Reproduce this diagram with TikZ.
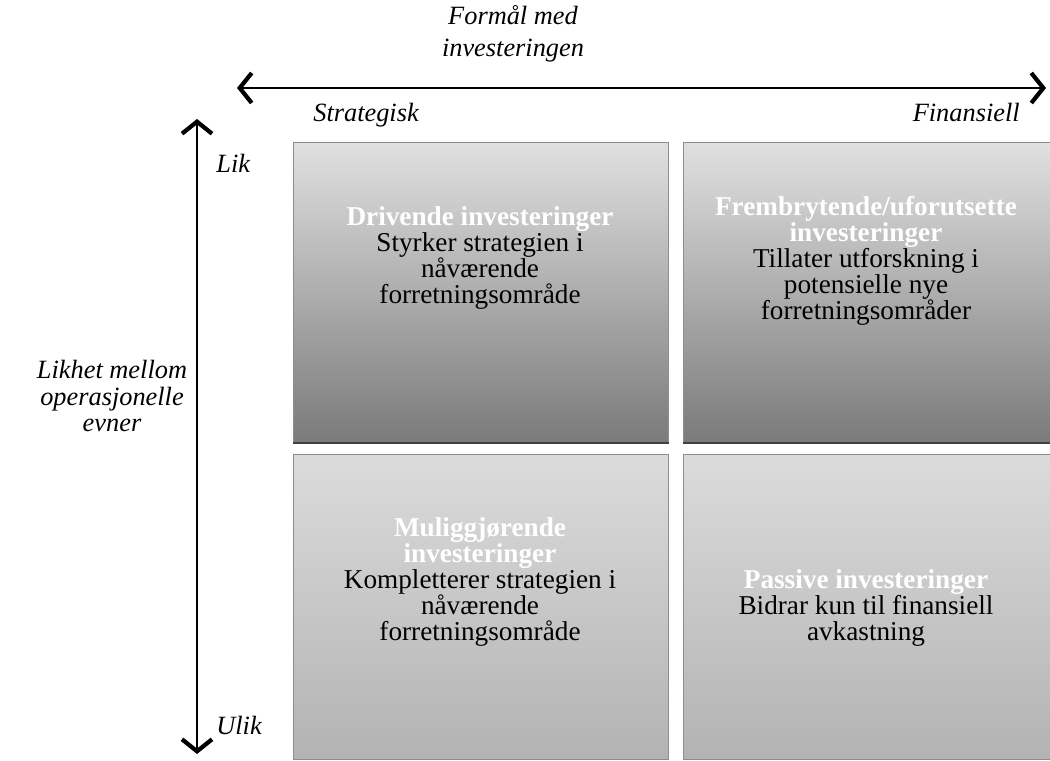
\documentclass[tikz,border=0pt]{standalone}
\usepackage{fontspec}
\setmainfont{Liberation Serif}
\usetikzlibrary{arrows.meta,positioning}

\tikzset{
  felt/.style={anchor=south west,inner sep=0pt,draw=black!45,line width=0.6pt},
  mork/.style={felt,top color=black!12,bottom color=black!52},
  lys/.style={felt,top color=black!14,bottom color=black!30},
  skygge/.style={draw=black!75,line width=1.6pt},
  tekst/.style={align=center,font=\fontsize{15.5}{14.8}\selectfont,inner sep=0pt},
  pil/.tip={Straight Barb[length=2.4mm,width=6mm,line width=2.4pt]},
  akse/.style={line width=1.3pt,{pil}-{pil}},
  etikett/.style={font=\fontsize{15}{18.2}\selectfont\itshape,align=center,inner sep=0pt}
}

\begin{document}
\begin{tikzpicture}[x=0.02cm,y=0.02cm]
  \useasboundingbox (0,0) rectangle (1050,760);
  % the four fields
  \node[mork,minimum width=7.5cm,minimum height=6cm] (drive) at (293,317) {};
  \node[mork,minimum width=7.34cm,minimum height=6cm] (frem) at (683,317) {};
  \node[lys,minimum width=7.5cm,minimum height=6.1cm] (mulig) at (293,0) {};
  \node[lys,minimum width=7.34cm,minimum height=6.1cm] (passiv) at (683,0) {};
  \draw[skygge] (drive.south west)--(drive.south east);
  \draw[skygge] (frem.south west)--(frem.south east);
  \node[tekst] (tDrive) at (480,502) {\textcolor{white}{\bfseries Drivende investeringer}\\
    Styrker strategien i\\ nåværende\\ forretningsområde};
  \node[tekst] (tFrem) at (866,499) {\textcolor{white}{\bfseries Frembrytende/uforutsette}\\
    \textcolor{white}{\bfseries investeringer}\\ Tillater utforskning i\\ potensielle nye\\ forretningsområder};
  \node[tekst] (tMulig) at (480,178) {\textcolor{white}{\bfseries Muliggjørende}\\
    \textcolor{white}{\bfseries investeringer}\\ Kompletterer strategien i\\ nåværende\\ forretningsområde};
  \node[tekst] (tPassiv) at (866,152) {\textcolor{white}{\bfseries Passive investeringer}\\
    Bidrar kun til finansiell\\ avkastning};
  % axes
  \coordinate (V) at (237,672);
  \coordinate (H) at (1046,672);
  \coordinate (O) at (197,641);
  \coordinate (N) at (197,6);
  \draw[akse] (V)--(H);
  \draw[akse] (O)--(N);
  \node[etikett] (formaal) at (513,726) {Formål med\\ investeringen};
  \node[etikett,anchor=base west] (strat) at (313,638) {Strategisk};
  \node[etikett,anchor=base east] (fin) at (1020,638) {Finansiell};
  \node[etikett,anchor=base west] (lik) at (216,587) {Lik};
  \node[etikett,anchor=base west] (ulik) at (216,26) {Ulik};
  \node[etikett] (likhet) at (112,364) {Likhet mellom\\[-3pt] operasjonelle\\[-3pt] evner};
\end{tikzpicture}
\end{document}
